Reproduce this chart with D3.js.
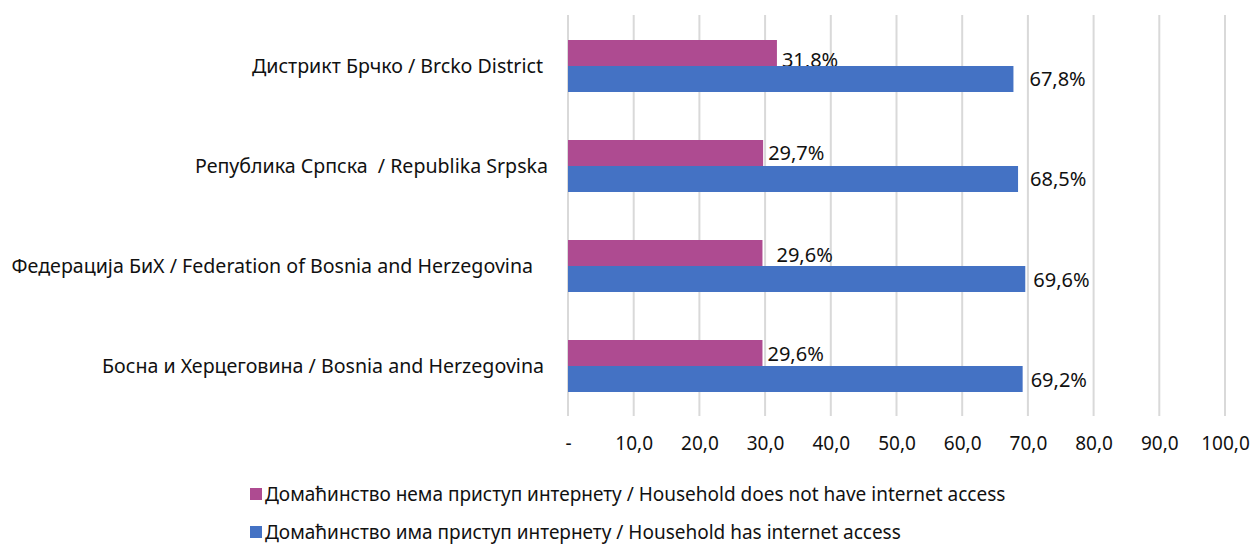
<!DOCTYPE html>
<html><head><meta charset="utf-8">
<script src="https://cdn.jsdelivr.net/npm/d3@7"></script>
<style>body{margin:0;background:#fff}svg text{font-family:"Noto Sans",sans-serif;fill:#111;white-space:pre}</style>
</head><body><svg id="c" width="1256" height="546"></svg>
<script>
const categories = ["Дистрикт Брчко / Brcko District", "Република Српска  / Republika Srpska", "Федерација БиХ / Federation of Bosnia and Herzegovina", "Босна и Херцеговина / Bosnia and Herzegovina"];
const noAccess = [31.8, 29.7, 29.6, 29.6];
const hasAccess = [67.8, 68.5, 69.6, 69.2];
const tickValues = [0,10,20,30,40,50,60,70,80,90,100];
const tickLabels = ["-","10,0","20,0","30,0","40,0","50,0","60,0","70,0","80,0","90,0","100,0"];
const seriesNames = ["Домаћинство нема приступ интернету / Household does not have internet access", "Домаћинство има приступ интернету / Household has internet access"];
const colors = ["#AE4B91", "#4472C4"];

// layout nudges (label placement as in the original)
const catLabelRight = [543, 548, 533, 544];
const labelDx = [[5,5,14,5],[16,12,8,8]];
const labelDy = [[7,0,2,1],[0,0,1,1]];

const svg = d3.select("#c");
const x = d3.scaleLinear().domain([0,100]).range([568,1225]);
const y = d3.scaleBand().domain(categories).range([16,416]).paddingInner(0.48).paddingOuter(0.24);
const sub = d3.scaleBand().domain([0,1]).range([0, y.bandwidth()]);

svg.append("g").selectAll("line").data(tickValues).join("line")
  .attr("x1",d=>x(d)).attr("x2",d=>x(d)).attr("y1",15).attr("y2",416)
  .attr("stroke","#d9d9d9").attr("stroke-width",2);

const ax = svg.append("g").attr("transform","translate(0,443)")
  .call(d3.axisBottom(x).tickValues(tickValues).tickFormat((d,i)=>tickLabels[i]).tickSize(0).tickPadding(0));
ax.select(".domain").remove();
ax.selectAll("text").attr("font-size",19).attr("dy","0.35em").attr("y",0).style("font-family","'Noto Sans',sans-serif").attr("fill","#111");

svg.append("g").selectAll("text").data(categories).join("text")
  .attr("x",(d,i)=>catLabelRight[i])
  .attr("y",d=>y(d)+y.bandwidth()/2).attr("dy","0.35em")
  .attr("text-anchor","end").attr("font-size",19.6).text(d=>d);

const series = [noAccess, hasAccess];
series.forEach((vals,si)=>{
  const g = svg.append("g");
  g.selectAll("rect").data(vals).join("rect")
    .attr("x",x(0)).attr("y",(d,i)=>y(categories[i])+sub(si))
    .attr("width",d=>x(d)-x(0)).attr("height",sub.bandwidth())
    .attr("fill",colors[si]);
  g.selectAll("text").data(vals).join("text")
    .attr("x",(d,i)=>x(d)+labelDx[si][i])
    .attr("y",(d,i)=>y(categories[i])+sub(si)+sub.bandwidth()/2 + labelDy[si][i])
    .attr("dy","0.35em").attr("font-size",20)
    .text(d=>d.toFixed(1).replace(".",",")+"%");
});

const leg = svg.append("g");
seriesNames.forEach((n,i)=>{
  const yy = 494 + i*38;
  leg.append("rect").attr("x",250).attr("y",yy-6).attr("width",12).attr("height",12).attr("fill",colors[i]);
  leg.append("text").attr("x",265).attr("y",yy).attr("dy","0.35em").attr("font-size",19).text(n);
});
</script></body></html>
